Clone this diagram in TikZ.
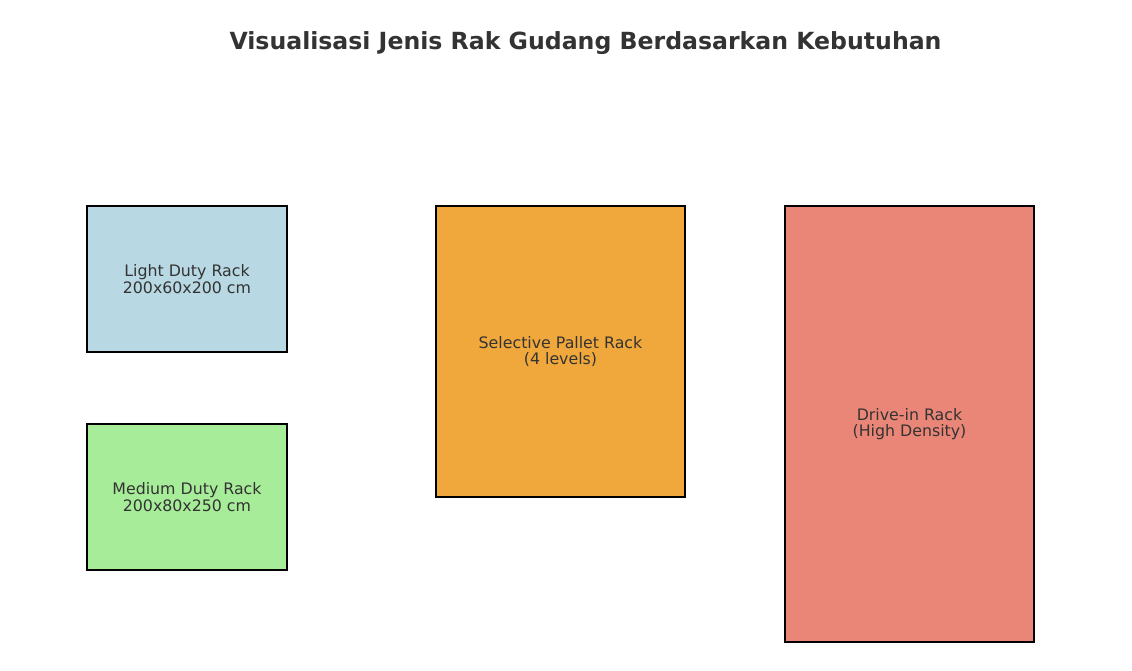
\documentclass[tikz,border=0pt]{standalone}
\usepackage{fontspec}
\setmainfont{DejaVu Sans}
\usetikzlibrary{positioning}

\begin{document}
\begin{tikzpicture}[x=1pt,y=-1pt,
  rack/.style={draw=black,line width=1.4pt,text=ink,align=center,inner sep=0pt,
    font=\fontsize{15.8}{16.4}\selectfont}]

\definecolor{ink}{RGB}{51,51,51};
\definecolor{lightrack}{RGB}{184,216,227};
\definecolor{mediumrack}{RGB}{167,236,153};
\definecolor{palletrack}{RGB}{240,168,60};
\definecolor{driverack}{RGB}{233,134,119};

\useasboundingbox (0,0) rectangle (1132,670);

\node[text=ink,font=\bfseries\fontsize{23.6}{26}\selectfont] (title) at (585.5,43) {Visualisasi Jenis Rak Gudang Berdasarkan Kebutuhan};

\def\rw{200}; \def\pw{249};
\node[rack,fill=lightrack,minimum width=\rw,minimum height=146] (light) at (187,279) {Light Duty Rack\\200x60x200 cm};
\node[rack,fill=mediumrack,minimum width=\rw,minimum height=146] (medium) at (187,497) {Medium Duty Rack\\200x80x250 cm};
\node[rack,fill=palletrack,minimum width=\pw,minimum height=291] (pallet) at (560.5,351.5) {Selective Pallet Rack\\(4 levels)};
\node[rack,fill=driverack,minimum width=\pw,minimum height=436] (drivein) at (909.5,424) {Drive-in Rack\\(High Density)};

\end{tikzpicture}
\end{document}
